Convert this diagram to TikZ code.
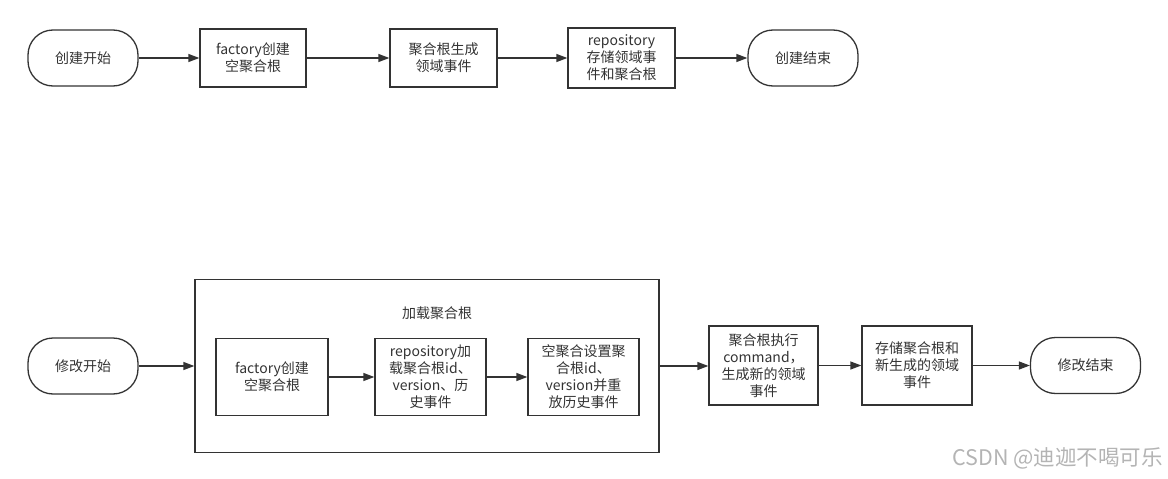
\documentclass[tikz,border=0pt]{standalone}
\usepackage{fontspec}
\setmainfont{Noto Sans CJK SC}
\usetikzlibrary{arrows.meta}
\definecolor{ink}{HTML}{333333}
\definecolor{wm}{HTML}{B4B4B4}
\begin{document}
\begin{tikzpicture}[x=1pt,y=-1pt,
  every node/.style={font=\fontsize{14}{17}\selectfont, text=ink, align=center, inner sep=0pt},
  pill/.style={draw=ink, line width=1.3pt, rounded corners=25pt, minimum width=110pt, minimum height=56pt},
  procbox/.style={draw=ink, line width=1.3pt, minimum width=#1, minimum height=58pt},
  subbox/.style={draw=ink, line width=1.3pt, minimum width=111pt, minimum height=77pt},
  flow/.style={draw=ink, line width=1.3pt, -{Triangle[length=11pt,width=8pt]}}
]
\useasboundingbox (0,0) rectangle (1168,479);
% top row
\node[pill] (s1) at (83,58) {创建开始};
\node[procbox=106pt] (b1) at (253,58) {factory创建\\空聚合根};
\node[procbox=107pt] (b2) at (443.5,58) {聚合根生成\\领域事件};
\node[procbox=107pt, minimum height=60pt] (b3) at (621.5,58) {repository\\存储领域事\\件和聚合根};
\node[pill] (e1) at (803,58) {创建结束};
\draw[flow] (s1) -- (b1);
\draw[flow] (b1) -- (b2);
\draw[flow] (b2) -- (b3);
\draw[flow] (b3) -- (e1);
% bottom row
\node[pill] (s2) at (83,366) {修改开始};
\node[draw=ink, line width=1.3pt, minimum width=464pt, minimum height=173pt] (load) at (427,366) {};
\node (loadlbl) at (437,313) {加载聚合根};
\node[subbox, minimum width=112pt] (c1) at (272,377) {factory创建\\空聚合根};
\node[subbox] (c2) at (430.5,377) {repository加\\载聚合根id、\\version、历\\史事件};
\node[subbox] (c3) at (583.5,377) {空聚合设置聚\\合根id、\\version并重\\放历史事件};
\node[procbox=109pt, minimum height=79pt] (d1) at (763.5,365.5) {聚合根执行\\command，\\生成新的领域\\事件};
\node[procbox=110pt, minimum height=79pt] (d2) at (917,365.5) {存储聚合根和\\新生成的领域\\事件};
\node[pill] (e2) at (1085.5,365.5) {修改结束};
\draw[flow] (s2) -- (load.west);
\draw[flow] (c1) -- (c2);
\draw[flow] (c2) -- (c3);
\draw[flow] (load.east) -- (load.east -| d1.west);
\draw[flow] (d1) -- (d2);
\draw[flow] (d2) -- (e2);
% watermark
\node[text=wm, font=\fontsize{21.5}{24}\selectfont, anchor=east] (wmk) at (1163,458) {CSDN @迪迦不喝可乐};
\end{tikzpicture}
\end{document}
